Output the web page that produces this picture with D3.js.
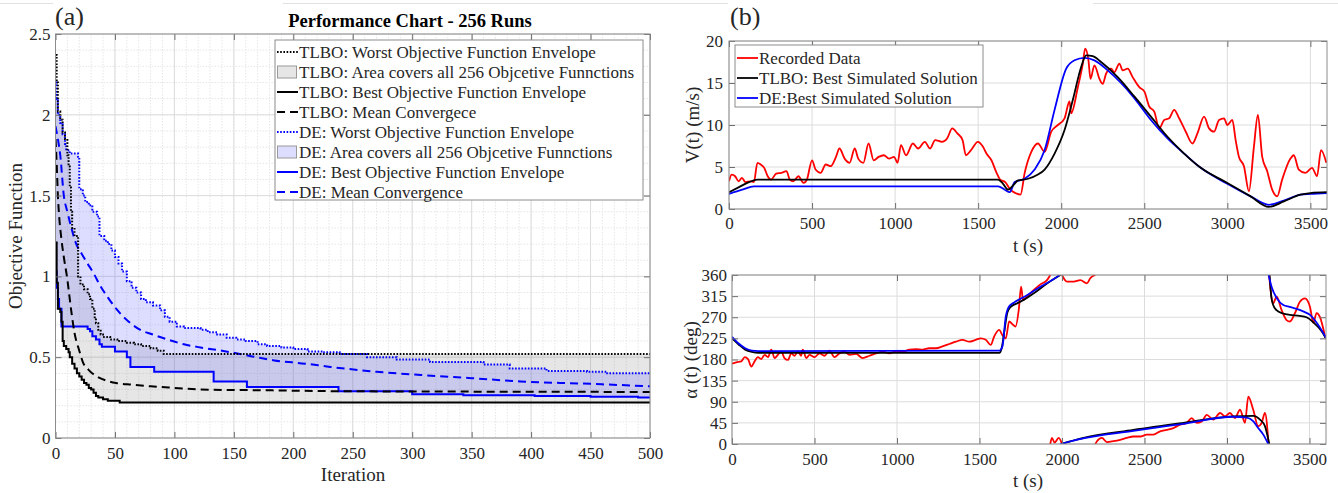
<!DOCTYPE html>
<html>
<head>
<meta charset="utf-8">
<script src="https://cdn.jsdelivr.net/npm/d3@7"></script>
<style>
  body { margin: 0; background: #fff; }
  svg { display: block; }
</style>
</head>
<body>
<svg id="chart" width="1338" height="493"></svg>
<script>
// ---------- data : (a) performance chart, [iteration, objective] ----------
const tlboWorst = [[0,2.37],[1,2.2],[2,2.02],[4,1.97],[6,1.89],[8,1.85],[10,1.75],[11,1.68],[12,1.55],[13,1.40],[14,1.30],[16,1.25],[19,1.0],[21,0.95],[24,0.92],[27,0.89],[29,0.86],[31,0.80],[33,0.74],[34,0.71],[36,0.67],[38,0.64],[40,0.625],[46,0.61],[52,0.60],[60,0.59],[66,0.58],[72,0.57],[80,0.555],[86,0.54],[91,0.52],[500,0.52]];
const tlboBest = [[0,1.21],[1,0.96],[2,0.80],[4,0.78],[5,0.72],[6,0.60],[7,0.57],[9,0.55],[11,0.53],[12,0.50],[14,0.46],[16,0.43],[18,0.40],[20,0.38],[22,0.36],[24,0.34],[26,0.33],[28,0.31],[30,0.30],[32,0.28],[34,0.26],[36,0.25],[40,0.24],[44,0.23],[54,0.22],[500,0.22]];
const tlboMean = [[0,1.85],[1,1.7],[2,1.5],[3,1.38],[5,1.23],[7,1.12],[10,0.98],[13,0.80],[16,0.65],[20,0.54],[23,0.47],[28,0.42],[35,0.38],[43,0.355],[51,0.34],[65,0.33],[80,0.32],[100,0.31],[122,0.30],[180,0.295],[230,0.29],[350,0.287],[500,0.285]];
const deWorst = [[0,2.2],[1,2.1],[2,2.0],[4,1.95],[6,1.88],[8,1.82],[9,1.78],[12,1.76],[19,1.74],[20,1.54],[23,1.50],[25,1.46],[28,1.44],[31,1.40],[35,1.37],[37,1.25],[41,1.22],[44,1.20],[47,1.16],[50,1.12],[53,1.08],[56,1.03],[60,0.97],[64,0.93],[68,0.90],[72,0.86],[76,0.84],[82,0.82],[88,0.79],[92,0.75],[96,0.72],[102,0.69],[108,0.68],[122,0.67],[128,0.655],[136,0.64],[144,0.62],[152,0.61],[160,0.60],[170,0.58],[178,0.57],[190,0.56],[200,0.55],[212,0.535],[225,0.53],[239,0.52],[262,0.50],[287,0.485],[315,0.47],[360,0.455],[382,0.43],[413,0.415],[447,0.41],[464,0.40],[500,0.40]];
const deBest = [[0,1.03],[1,0.93],[2,0.86],[3,0.80],[5,0.69],[27,0.675],[29,0.66],[31,0.63],[34,0.61],[37,0.58],[39,0.565],[50,0.535],[60,0.50],[63,0.44],[83,0.41],[133,0.35],[161,0.315],[238,0.29],[300,0.27],[343,0.265],[403,0.26],[450,0.255],[490,0.25],[500,0.25]];
const deMean = [[0,1.93],[2,1.85],[4,1.75],[7,1.50],[10,1.40],[13,1.31],[18,1.19],[22,1.14],[26,1.09],[32,1.02],[37,0.95],[44,0.87],[51,0.80],[60,0.73],[71,0.67],[82,0.64],[94,0.61],[108,0.58],[122,0.56],[140,0.54],[155,0.52],[184,0.48],[210,0.46],[231,0.44],[270,0.41],[307,0.39],[350,0.37],[391,0.35],[450,0.335],[500,0.32]];

const legendA = [
  'TLBO: Worst Objective Function Envelope',
  'TLBO: Area covers all 256 Objcetive Funnctions',
  'TLBO: Best Objective Function Envelope',
  'TLBO: Mean Convergece',
  'DE: Worst Objective Function Envelope',
  'DE: Area covers all 256 Objcetive Funnctions',
  'DE: Best Objective Function Envelope',
  'DE: Mean Convergence'
];

// ---------- data : (b) speed V(t), [t (s), m/s] ----------
const recordedV = [[0,3.3],[16,4.1],[37,3.9],[58,3.3],[78,3.7],[99,3.2],[130,3.3],[150,3.2],[171,5.5],[191,5.3],[212,4.9],[233,3.9],[253,3.5],[284,4.2],[315,4.3],[346,4.5],[366,3.5],[387,3.3],[418,3.9],[449,3.1],[469,3.5],[500,5.8],[521,4.7],[552,4.3],[582,5.3],[613,5.1],[644,6.2],[665,7.2],[696,6.0],[726,5.5],[757,7.2],[778,6.0],[809,5.5],[840,7.8],[871,5.8],[901,6.2],[932,6.4],[963,6.0],[994,6.2],[1015,5.5],[1035,7.6],[1066,6.4],[1107,7.8],[1138,7.2],[1179,8.0],[1210,7.2],[1241,8.2],[1282,8.0],[1313,8.4],[1344,9.6],[1375,9.0],[1406,8.2],[1426,6.4],[1457,7.0],[1498,8.0],[1529,7.4],[1550,6.6],[1580,5.8],[1611,4.3],[1632,3.5],[1663,3.2],[1694,2.3],[1724,1.9],[1755,1.7],[1780,4.3],[1820,6.8],[1860,7.8],[1900,6.8],[1940,9.2],[1980,10.0],[2020,10.8],[2050,12.8],[2060,11.4],[2100,14.5],[2130,17.3],[2144,19.1],[2164,17.7],[2176,15.5],[2200,17.1],[2230,15.5],[2250,14.9],[2270,16.1],[2300,16.7],[2320,16.3],[2350,17.3],[2370,16.5],[2400,16.7],[2430,15.7],[2470,14.5],[2500,14.0],[2530,12.2],[2560,11.6],[2590,9.6],[2620,10.6],[2650,10.8],[2680,11.8],[2710,10.8],[2750,9.2],[2790,7.8],[2820,9.0],[2860,11.0],[2890,9.6],[2920,9.2],[2950,10.6],[2980,10.8],[3000,10.0],[3030,10.6],[3050,8.2],[3070,6.2],[3100,5.1],[3130,2.1],[3160,7.4],[3184,11.2],[3210,6.2],[3240,4.5],[3270,2.3],[3300,1.5],[3330,3.5],[3380,6.0],[3400,6.4],[3430,4.7],[3470,4.3],[3510,4.9],[3540,3.9],[3564,7.0],[3596,5.5]];
const tlboV = [[0,2.0],[60,2.6],[120,3.2],[170,3.5],[1620,3.5],[1650,3.0],[1680,2.3],[1710,2.8],[1740,3.4],[1800,3.6],[1860,4.1],[1900,4.7],[1960,6.6],[2020,9.4],[2070,13.0],[2120,16.9],[2150,18.3],[2190,18.2],[2240,17.5],[2340,15.7],[2440,13.4],[2540,11.0],[2640,8.6],[2740,6.6],[2840,4.9],[3000,3.1],[3140,1.5],[3250,0.25],[3340,0.9],[3440,1.7],[3500,1.9],[3600,2.0]];
const deV = [[0,1.8],[80,2.3],[150,2.7],[1620,2.7],[1660,2.3],[1690,2.0],[1720,3.2],[1780,3.6],[1840,4.7],[1900,7.0],[1960,11.8],[2030,16.7],[2080,17.7],[2140,18.0],[2200,17.7],[2280,16.5],[2360,15.0],[2440,13.2],[2540,10.6],[2640,8.4],[2740,6.6],[2840,4.9],[3000,3.0],[3140,1.5],[3250,0.5],[3340,1.0],[3440,1.7],[3500,1.8],[3600,1.9]];

// ---------- data : (b) heading alpha(t), [t (s), deg], NaN = wrap break ----------
const recordedA = [[0,171],[26,174],[56,176],[77,185],[97,181],[117,165],[137,176],[157,185],[177,181],[198,190],[218,185],[238,201],[258,183],[278,190],[298,197],[318,183],[339,179],[359,193],[379,188],[399,197],[419,188],[429,201],[450,183],[470,190],[500,185],[530,193],[560,188],[591,199],[621,185],[651,193],[681,197],[712,190],[752,192],[792,183],[833,188],[873,193],[913,197],[954,193],[994,198],[1034,197],[1075,201],[1115,202],[1155,201],[1195,204],[1236,204],[1276,208],[1317,213],[1357,218],[1397,222],[1437,218],[1478,222],[1508,225],[1538,222],[1568,211],[1589,229],[1619,243],[1639,232],[1659,225],[1680,261],[1700,255],[1718,250],[1738,286],[1752,335],[1764,307],[1788,314],[1829,328],[1869,340],[1909,349],[1929,360],
  [1929,NaN],[1929,0],[1939,13],[1955,3],[1980,13],[2000,0],
  [2000,NaN],[2000,360],[2030,346],[2071,346],[2111,349],[2151,342],[2171,353],[2202,360],
  [2202,NaN],[2202,0],[2212,6],[2242,13],[2272,4],[2312,6],[2353,9],[2393,13],[2433,16],[2474,16],[2514,20],[2554,20],[2595,27],[2635,30],[2675,34],[2716,41],[2756,45],[2786,55],[2816,45],[2847,48],[2877,62],[2917,52],[2958,66],[2988,59],[3018,66],[3048,55],[3079,73],[3109,45],[3129,101],[3159,73],[3189,38],[3210,45],[3230,66],[3252,0],
  [3252,NaN],[3255,360],[3280,300],[3301,314],[3331,285],[3361,264],[3381,261],[3412,279],[3442,303],[3472,310],[3503,292],[3523,258],[3543,279],[3563,271],[3596,226]];
const tlboA = [[0,225],[40,212],[80,201],[120,196],[160,194],[1620,194],[1635,205],[1649,236],[1669,280],[1689,292],[1730,300],[1768,307],[1829,321],[1909,342],[1990,360],
  [1990,NaN],[1995,0],[2131,13],[2433,30],[2736,45],[3038,59],[3159,60],[3200,52],[3230,38],[3256,0],
  [3256,NaN],[3258,360],[3268,315],[3280,296],[3300,285],[3340,278],[3381,275],[3440,273],[3482,270],[3530,257],[3570,242],[3600,225]];
const deA = [[0,228],[40,214],[80,204],[120,199],[160,198],[1620,199],[1639,208],[1659,271],[1679,293],[1708,301],[1788,317],[1869,335],[1970,356],[1985,360],
  [1985,NaN],[1990,0],[2100,10],[2433,28],[2736,43],[3038,58],[3119,56],[3160,48],[3189,34],[3220,20],[3250,0],
  [3250,NaN],[3252,360],[3270,335],[3301,311],[3341,296],[3380,292],[3422,288],[3465,282],[3503,275],[3550,255],[3600,226]];

const legendB = ['Recorded Data', 'TLBO: Best Simulated Solution', 'DE:Best Simulated Solution'];

const serif = '"Liberation Serif", "Times New Roman", serif';
const svg = d3.select('#chart');
svg.append('rect').attr('width', 1338).attr('height', 493).attr('fill', '#fff');

// faint page rule at the very top (document artefact)
[[0, 53], [283, 728], [1093, 1338]].forEach(([a, b]) => {
  svg.append('line').attr('x1', a).attr('x2', b).attr('y1', 3.5).attr('y2', 3.5)
    .attr('stroke', '#e2e2e2');
});

let clipCount = 0;

// one axes box in the matlab style : grid, inward ticks on all sides, box
function makePanel(opt) {
  const x = d3.scaleLinear().domain(opt.xDomain).range([opt.left, opt.right]);
  const y = d3.scaleLinear().domain(opt.yDomain).range([opt.bottom, opt.top]);
  const g = svg.append('g');
  const grid = g.append('g');
  if (opt.xMinor) {
    grid.selectAll('.mx').data(opt.xMinor).join('line')
      .attr('x1', d => x(d)).attr('x2', d => x(d)).attr('y1', opt.top).attr('y2', opt.bottom)
      .attr('stroke', '#e6e6e6').attr('stroke-dasharray', '1.5,1.5');
    grid.selectAll('.my').data(opt.yMinor).join('line')
      .attr('y1', d => y(d)).attr('y2', d => y(d)).attr('x1', opt.left).attr('x2', opt.right)
      .attr('stroke', '#e6e6e6').attr('stroke-dasharray', '1.5,1.5');
  }
  grid.selectAll('.gx').data(opt.xTicks).join('line')
    .attr('x1', d => x(d)).attr('x2', d => x(d)).attr('y1', opt.top).attr('y2', opt.bottom)
    .attr('stroke', '#dcdcdc');
  grid.selectAll('.gy').data(opt.yTicks).join('line')
    .attr('y1', d => y(d)).attr('y2', d => y(d)).attr('x1', opt.left).attr('x2', opt.right)
    .attr('stroke', '#dcdcdc');

  const id = 'clip' + (clipCount++);
  g.append('clipPath').attr('id', id).append('rect')
    .attr('x', opt.left).attr('y', opt.top)
    .attr('width', opt.right - opt.left).attr('height', opt.bottom - opt.top);
  const plot = g.append('g').attr('clip-path', `url(#${id})`);
  const axes = g.append('g');

  const fmt = d => String(d);
  const style = sel => {
    sel.attr('font-family', serif).attr('font-size', 17).attr('color', '#262626');
    sel.select('.domain').remove();
    sel.selectAll('.tick line').attr('stroke', '#6e6e6e');
  };
  axes.append('g').attr('transform', `translate(0,${opt.bottom})`)
    .call(d3.axisBottom(x).tickValues(opt.xTicks).tickSizeInner(-6).tickSizeOuter(0)
      .tickPadding(opt.xPad).tickFormat(fmt)).call(style);
  axes.append('g').attr('transform', `translate(0,${opt.top})`)
    .call(d3.axisTop(x).tickValues(opt.xTicks).tickSizeInner(-6).tickSizeOuter(0).tickFormat('')).call(style);
  axes.append('g').attr('transform', `translate(${opt.left},0)`)
    .call(d3.axisLeft(y).tickValues(opt.yTicks).tickSizeInner(-6).tickSizeOuter(0)
      .tickPadding(opt.yPad).tickFormat(fmt)).call(style);
  axes.append('g').attr('transform', `translate(${opt.right},0)`)
    .call(d3.axisRight(y).tickValues(opt.yTicks).tickSizeInner(-6).tickSizeOuter(0).tickFormat('')).call(style);
  axes.append('rect')
    .attr('x', opt.left).attr('y', opt.top)
    .attr('width', opt.right - opt.left).attr('height', opt.bottom - opt.top)
    .attr('fill', 'none').attr('stroke', '#8c8c8c');

  return { g, plot, x, y };
}

function label(txt, x, y, size, opts = {}) {
  const t = svg.append('text').text(txt)
    .attr('font-family', serif).attr('font-size', size).attr('fill', '#262626')
    .attr('text-anchor', opts.anchor || 'middle');
  if (opts.bold) t.attr('font-weight', 'bold').attr('fill', '#000');
  if (opts.rotate) t.attr('transform', `translate(${x},${y}) rotate(-90)`);
  else t.attr('x', x).attr('y', y);
  return t;
}

// value of a step function (stairs) at x
function stepVal(pts, x) {
  let v = pts[0][1];
  for (const p of pts) {
    if (p[0] <= x) v = p[1];
    else break;
  }
  return v;
}

// ======================= (a) =======================
const pa = makePanel({
  left: 55.5, right: 650, top: 34, bottom: 438,
  xDomain: [0, 500], yDomain: [0, 2.5],
  xTicks: d3.range(0, 501, 50), yTicks: [0, 0.5, 1, 1.5, 2, 2.5],
  xMinor: d3.range(10, 500, 10), yMinor: d3.range(0.1, 2.5, 0.1),
  xPad: 9, yPad: 5
});

// envelope areas, both bounds on a common iteration grid
function envelope(best, worst) {
  const xs = Array.from(new Set(best.map(d => d[0]).concat(worst.map(d => d[0])))).sort((a, b) => a - b);
  return xs.map(i => ({ i, lo: stepVal(best, i), hi: stepVal(worst, i) }));
}
const areaA = d3.area().curve(d3.curveStepAfter)
  .x(d => pa.x(d.i)).y0(d => pa.y(d.lo)).y1(d => pa.y(d.hi));
pa.plot.append('path').datum(envelope(tlboBest, tlboWorst)).attr('d', areaA)
  .attr('fill', 'rgb(128,128,128)').attr('fill-opacity', 0.2);
pa.plot.append('path').datum(envelope(deBest, deWorst)).attr('d', areaA)
  .attr('fill', 'rgb(100,100,255)').attr('fill-opacity', 0.22);

const stairs = d3.line().curve(d3.curveStepAfter).x(d => pa.x(d[0])).y(d => pa.y(d[1]));
const smooth = d3.line().curve(d3.curveMonotoneX).x(d => pa.x(d[0])).y(d => pa.y(d[1]));

const seriesA = [
  { data: deWorst, gen: stairs, color: '#0000ff', dash: '1.6,1.6' },
  { data: deBest, gen: stairs, color: '#0000ff', dash: null },
  { data: deMean, gen: smooth, color: '#0000ff', dash: '8,5' },
  { data: tlboWorst, gen: stairs, color: '#000', dash: '1.6,1.6' },
  { data: tlboBest, gen: stairs, color: '#000', dash: null },
  { data: tlboMean, gen: smooth, color: '#000', dash: '8,5' }
];
seriesA.forEach(s => {
  pa.plot.append('path').datum(s.data).attr('d', s.gen)
    .attr('fill', 'none').attr('stroke', s.color).attr('stroke-width', 2)
    .attr('stroke-dasharray', s.dash);
});

// legend (a)
const legA = svg.append('g');
legA.append('rect').attr('x', 275).attr('y', 40).attr('width', 368).attr('height', 160)
  .attr('fill', '#fff').attr('stroke', '#8c8c8c');
const legKeys = [
  { kind: 'line', color: '#000', dash: '1.6,1.6' },
  { kind: 'box', fill: 'rgb(128,128,128)', op: 0.2 },
  { kind: 'line', color: '#000', dash: null },
  { kind: 'line', color: '#000', dash: '8,5' },
  { kind: 'line', color: '#0000ff', dash: '1.6,1.6' },
  { kind: 'box', fill: 'rgb(100,100,255)', op: 0.22 },
  { kind: 'line', color: '#0000ff', dash: null },
  { kind: 'line', color: '#0000ff', dash: '8,5' }
];
legendA.forEach((txt, i) => {
  const cy = 52 + i * 20;
  const k = legKeys[i];
  if (k.kind === 'line') {
    legA.append('line').attr('x1', 277).attr('x2', 298).attr('y1', cy).attr('y2', cy)
      .attr('stroke', k.color).attr('stroke-width', 2).attr('stroke-dasharray', k.dash);
  } else {
    legA.append('rect').attr('x', 277.5).attr('y', cy - 6).attr('width', 19).attr('height', 12)
      .attr('fill', k.fill).attr('fill-opacity', k.op).attr('stroke', '#9a9a9a');
  }
  legA.append('text').text(txt).attr('x', 299).attr('y', cy + 6)
    .attr('font-family', serif).attr('font-size', 17).attr('fill', '#262626');
});

label('(a)', 55, 25, 26, { anchor: 'start' });
label('Performance Chart - 256 Runs', 410, 27, 18.5, { bold: true });
label('Iteration', 353, 481, 19);
label('Objective Function', 22, 236, 19, { rotate: true });

// ======================= (b) top : V(t) =======================
const pv = makePanel({
  left: 729, right: 1327, top: 41, bottom: 209,
  xDomain: [0, 3600], yDomain: [0, 20],
  xTicks: d3.range(0, 3501, 500), yTicks: [0, 5, 10, 15, 20],
  xPad: 8, yPad: 6
});
const lineV = d3.line().curve(d3.curveMonotoneX).x(d => pv.x(d[0])).y(d => pv.y(d[1]));
[[recordedV, '#ff0000'], [deV, '#0000ff'], [tlboV, '#000']].forEach(([data, color]) => {
  pv.plot.append('path').datum(data).attr('d', lineV)
    .attr('fill', 'none').attr('stroke', color).attr('stroke-width', 1.8);
});

// legend (b)
const legB = svg.append('g');
legB.append('rect').attr('x', 735).attr('y', 45).attr('width', 248).attr('height', 62)
  .attr('fill', '#fff').attr('stroke', '#8c8c8c');
['#ff0000', '#000', '#0000ff'].forEach((c, i) => {
  const cy = 58 + i * 20;
  legB.append('line').attr('x1', 737).attr('x2', 758).attr('y1', cy).attr('y2', cy)
    .attr('stroke', c).attr('stroke-width', 1.8);
  legB.append('text').text(legendB[i]).attr('x', 759).attr('y', cy + 6)
    .attr('font-family', serif).attr('font-size', 17).attr('fill', '#262626');
});

label('(b)', 730, 25, 26, { anchor: 'start' });
label('V(t) (m/s)', 699, 125, 19, { rotate: true });
label('t (s)', 1028, 252, 19);

// ======================= (b) bottom : alpha(t) =======================
const pal = makePanel({
  left: 732, right: 1326, top: 275, bottom: 444,
  xDomain: [0, 3600], yDomain: [0, 360],
  xTicks: d3.range(0, 3501, 500), yTicks: d3.range(0, 361, 45),
  xPad: 9, yPad: 5
});
const lineA = d3.line().curve(d3.curveMonotoneX)
  .defined(d => !isNaN(d[1]))
  .x(d => pal.x(d[0])).y(d => pal.y(d[1]));
[[recordedA, '#ff0000'], [tlboA, '#000'], [deA, '#0000ff']].forEach(([data, color]) => {
  pal.plot.append('path').datum(data).attr('d', lineA)
    .attr('fill', 'none').attr('stroke', color).attr('stroke-width', 1.8);
});

label('\u03b1 (t) (deg)', 697, 360, 19, { rotate: true });
label('t (s)', 1028, 487, 19);
</script>
</body>
</html>
